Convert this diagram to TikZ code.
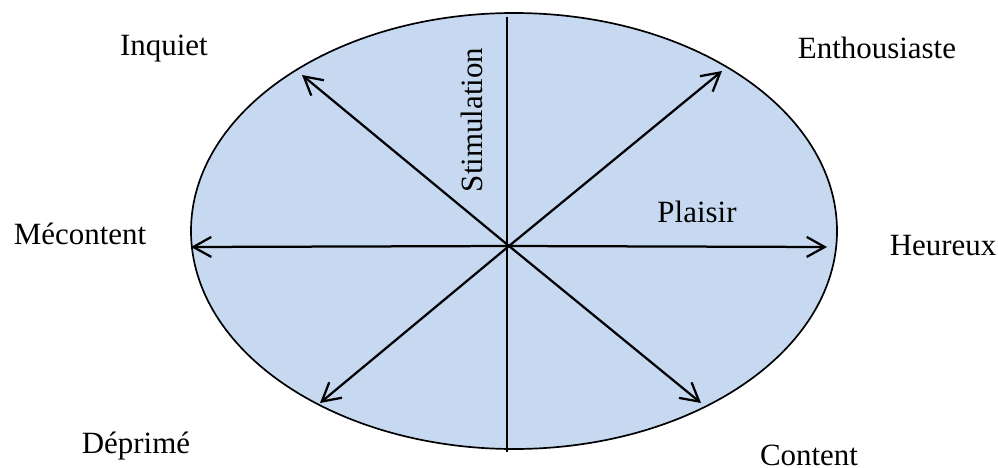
\documentclass[tikz,border=0pt]{standalone}
\usepackage{fontspec}
\setmainfont{Liberation Serif}
\usetikzlibrary{arrows.meta}
\definecolor{bleu}{HTML}{C6D9F1}
\definecolor{ink}{HTML}{000000}

\begin{document}
\begin{tikzpicture}[x=0.025cm,y=-0.025cm,
lbl/.style={anchor=base,inner sep=0pt,font=\fontsize{22}{26}\selectfont},
axe/.style={-{Straight Barb[length=4.5mm,width=5mm,line width=1.6pt]},line width=1.6pt,ink}]
 \useasboundingbox (0,0) rectangle (998,467);
 \draw[fill=bleu,line width=1.2pt] (514,231) ellipse [x radius=323,y radius=218];
 \coordinate (o) at (509,246);
 \coordinate (haut) at (507,17);
 \coordinate (bas) at (507,452);
 \coordinate (inq) at (302,75);
 \coordinate (ent) at (722,71);
 \coordinate (mec) at (191,247);
 \coordinate (heu) at (827,247);
 \coordinate (dep) at (320,403);
 \coordinate (con) at (701,403);
 \draw[line width=1pt] (haut) -- (bas);
 \draw[axe] (o) -- (inq);
 \draw[axe] (o) -- (ent);
 \draw[axe] (o) -- (mec);
 \draw[axe] (o) -- (heu);
 \draw[axe] (o) -- (dep);
 \draw[axe] (o) -- (con);
 \node[lbl] (inquiet) at (164,55) {Inquiet};
 \node[lbl] (enthousiaste) at (877,58) {Enthousiaste};
 \node[lbl] (mecontent) at (80,244) {Mécontent};
 \node[lbl] (heureux) at (943,255) {Heureux};
 \node[lbl] (deprime) at (136,453) {Déprimé};
 \node[lbl] (content) at (809,465) {Content};
 \node[lbl] (plaisir) at (697,222) {Plaisir};
 \node[lbl,rotate=90] (stimulation) at (482,120) {Stimulation};
\end{tikzpicture}
\end{document}
